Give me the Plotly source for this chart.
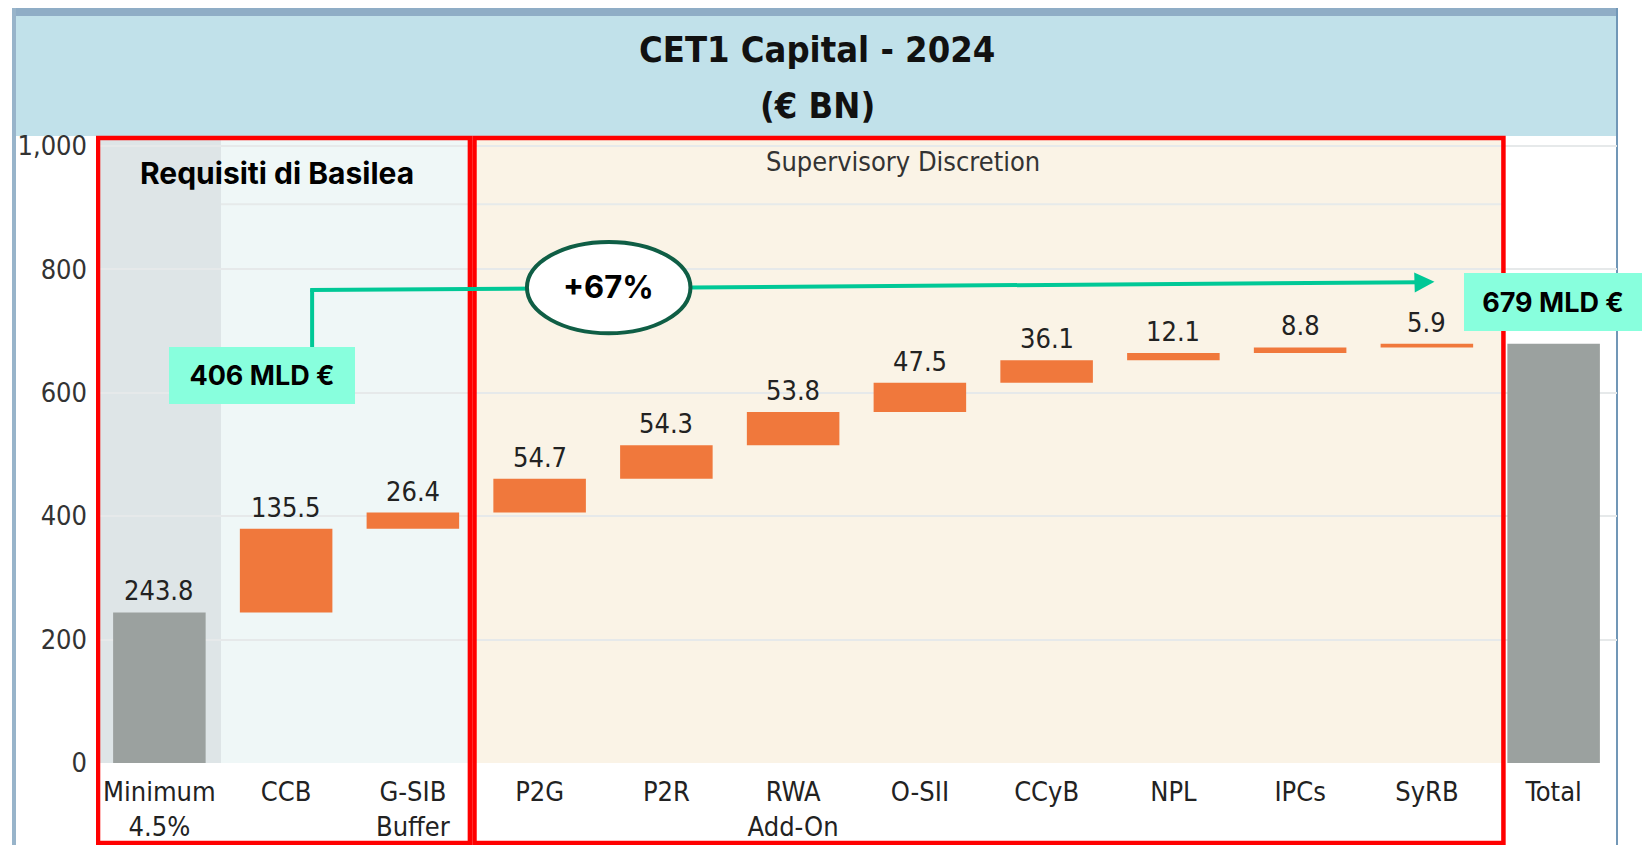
import numpy as np
import plotly.graph_objects as go

# ---------------- data ----------------
categories = ["Minimum<br>4.5%", "CCB", "G-SIB<br>Buffer", "P2G", "P2R", "RWA<br>Add-On",
              "O-SII", "CCyB", "NPL", "IPCs", "SyRB", "Total"]
values = [243.8, 135.5, 26.4, 54.7, 54.3, 53.8, 47.5, 36.1, 12.1, 8.8, 5.9, None]
measures = ["absolute"] + ["relative"] * 10 + ["total"]
value_labels = ["243.8", "135.5", "26.4", "54.7", "54.3", "53.8", "47.5", "36.1",
                "12.1", "8.8", "5.9"]
y_tick_values = [0, 200, 400, 600, 800, 1000]
y_tick_labels = ["0", "200", "400", "600", "800", "1,000"]
title_line1 = "CET1 Capital - 2024"
title_line2 = "(€ BN)"
panel_basel = "Requisiti di Basilea"
panel_supervisory = "Supervisory Discretion"
start_label = "406 MLD €"
end_label = "679 MLD €"
growth_label = "+67%"

# ---------------- geometry helpers ----------------
W, H = 1642, 845
ML, MR, MT, MB = 96, 25, 140, 82
PW, PH = W - ML - MR, H - MT - MB
Y_MAX = 1009


def px(x):  # pixel x -> paper x
    return (x - ML) / PW


def py(y):  # pixel y -> paper y
    return (H - MB - y) / PH


COND = "DejaVu Sans Condensed, Liberation Sans Narrow, Arial Narrow, DejaVu Sans, sans-serif"
BOLDSANS = "Inter, Lato, Roboto, sans-serif"
ORANGE = "#F0783C"
GREY = "#9BA19F"
GREEN = "#00C896"

cum = np.cumsum([v for v in values if v is not None])

fig = go.Figure()
fig.add_trace(go.Waterfall(
    x=categories, y=values, measure=measures,
    increasing=dict(marker=dict(color=ORANGE)),
    decreasing=dict(marker=dict(color=ORANGE)),
    totals=dict(marker=dict(color=GREY)),
    connector=dict(visible=False),
    hoverinfo="x+y",
    showlegend=False,
))

shapes = []
# header band
shapes.append(dict(type="rect", xref="paper", yref="paper", x0=px(13), x1=px(1618), y0=py(136), y1=py(13),
                   fillcolor="#C1E1EA", line_width=0, layer="below"))
shapes.append(dict(type="rect", xref="paper", yref="paper", x0=px(13), x1=px(1618), y0=py(16), y1=py(8),
                   fillcolor="#8FADC6", line_width=0, layer="below"))
# outer frame lines
shapes.append(dict(type="line", xref="paper", yref="paper", x0=px(14), x1=px(14), y0=py(8), y1=py(845),
                   line=dict(color="#98B4CA", width=4), layer="below"))
shapes.append(dict(type="line", xref="paper", yref="paper", x0=px(1617), x1=px(1617), y0=py(8), y1=py(845),
                   line=dict(color="#7197B7", width=2), layer="below"))
# panel shading (category index coordinates)
shapes.append(dict(type="rect", xref="x", yref="paper", x0=-0.5, x1=0.486, y0=0, y1=1,
                   fillcolor="#DEE5E7", line_width=0, layer="below"))
shapes.append(dict(type="rect", xref="x", yref="paper", x0=0.486, x1=2.47, y0=0, y1=1,
                   fillcolor="#EFF7F7", line_width=0, layer="below"))
shapes.append(dict(type="rect", xref="x", yref="paper", x0=2.47, x1=10.6, y0=0, y1=1,
                   fillcolor="#FAF3E6", line_width=0, layer="below"))
shapes.append(dict(type="line", xref="x", yref="y", x0=0.486, x1=10.6, y0=905, y1=905,
                   line=dict(color="#E6EAEA", width=2), layer="below"))
# red boxes
shapes.append(dict(type="rect", xref="x", yref="paper", x0=-0.484, x1=2.45, y0=py(843), y1=py(138),
                   line=dict(color="#FF0000", width=4.5), fillcolor="rgba(0,0,0,0)", layer="above"))
shapes.append(dict(type="rect", xref="x", yref="paper", x0=2.486, x1=10.604, y0=py(843), y1=py(138),
                   line=dict(color="#FF0000", width=4.5), fillcolor="rgba(0,0,0,0)", layer="above"))
# green connector line
shapes.append(dict(type="line", xref="x", yref="y", x0=1.205, x1=1.205, y0=665, y1=767,
                   line=dict(color=GREEN, width=4), layer="above"))
shapes.append(dict(type="line", xref="x", yref="y", x0=1.19, x1=9.95, y0=766, y1=778.5,
                   line=dict(color=GREEN, width=4), layer="above"))
# ellipse
shapes.append(dict(type="circle", xref="x", yref="y", x0=2.90, x1=4.19, y0=696, y1=844,
                   fillcolor="white", line=dict(color="#0F5E45", width=4), layer="above"))

annotations = []
annotations.append(dict(xref="paper", yref="paper", x=px(817), y=py(50), text=title_line1, showarrow=False,
                        font=dict(family=COND, size=36, color="#111", weight="bold"),
                        xanchor="center", yanchor="middle"))
annotations.append(dict(xref="paper", yref="paper", x=px(817), y=py(105), text=title_line2, showarrow=False,
                        font=dict(family=COND, size=36, color="#111", weight="bold"),
                        xanchor="center", yanchor="middle"))
annotations.append(dict(xref="paper", yref="paper", x=px(277), y=py(173), text=panel_basel, showarrow=False,
                        font=dict(family=BOLDSANS, size=30, color="#000", weight=700),
                        xanchor="center", yanchor="middle"))
annotations.append(dict(xref="paper", yref="paper", x=px(903), y=py(162), text=panel_supervisory,
                        showarrow=False, font=dict(family=COND, size=27, color="#333"),
                        xanchor="center", yanchor="middle"))
for i, lab in enumerate(value_labels):
    annotations.append(dict(xref="x", yref="y", x=categories[i], y=float(cum[i]), text=lab, showarrow=False,
                            font=dict(family=COND, size=27, color="#222"),
                            xanchor="center", yanchor="bottom", yshift=4))
annotations.append(dict(xref="x", yref="y", x=0.81, y=627.5, text=start_label, showarrow=False,
                        font=dict(family=BOLDSANS, size=27, color="#000", weight=700),
                        bgcolor="#88FFDD", width=186, height=57, borderpad=0, borderwidth=0,
                        xanchor="center", yanchor="middle"))
annotations.append(dict(xref="x", yref="y", x=10.995, y=746.5, text=end_label, showarrow=False,
                        font=dict(family=BOLDSANS, size=27, color="#000", weight=700),
                        bgcolor="#88FFDD", width=178, height=58, borderpad=0, borderwidth=0,
                        xanchor="center", yanchor="middle"))
annotations.append(dict(xref="x", yref="y", x=3.545, y=771, text=growth_label, showarrow=False,
                        font=dict(family=BOLDSANS, size=31, color="#000", weight=700),
                        xanchor="center", yanchor="middle"))
annotations.append(dict(xref="x", yref="y", axref="x", ayref="y", x=10.06, y=779.3, ax=9.9, ay=778.3,
                        text="", showarrow=True, arrowhead=2, arrowsize=1.0, arrowwidth=4,
                        arrowcolor=GREEN, standoff=0, startstandoff=0))

fig.update_layout(
    width=W, height=H, autosize=False,
    margin=dict(l=ML, r=MR, t=MT, b=MB, pad=0, autoexpand=False),
    paper_bgcolor="white", plot_bgcolor="white",
    waterfallgap=0.27,
    shapes=shapes, annotations=annotations,
    showlegend=False,
    xaxis=dict(type="category", showgrid=False, ticks="", showline=False, zeroline=False,
               automargin=False,
               tickfont=dict(family=COND, size=27, color="#222"), ticklabelstandoff=10,
               range=[-0.5, 11.5], fixedrange=True),
    yaxis=dict(range=[0, Y_MAX], tickvals=y_tick_values, ticktext=y_tick_labels,
               automargin=False,
               showgrid=True, gridcolor="#E6E9EA", gridwidth=1.5, zeroline=False, showline=False,
               ticks="", tickfont=dict(family=COND, size=27, color="#333"), ticklabelstandoff=8,
               fixedrange=True),
)

fig.write_html("out.html", config={"displayModeBar": False},
               post_script="document.body.style.margin='0';document.body.style.overflow='hidden';")
